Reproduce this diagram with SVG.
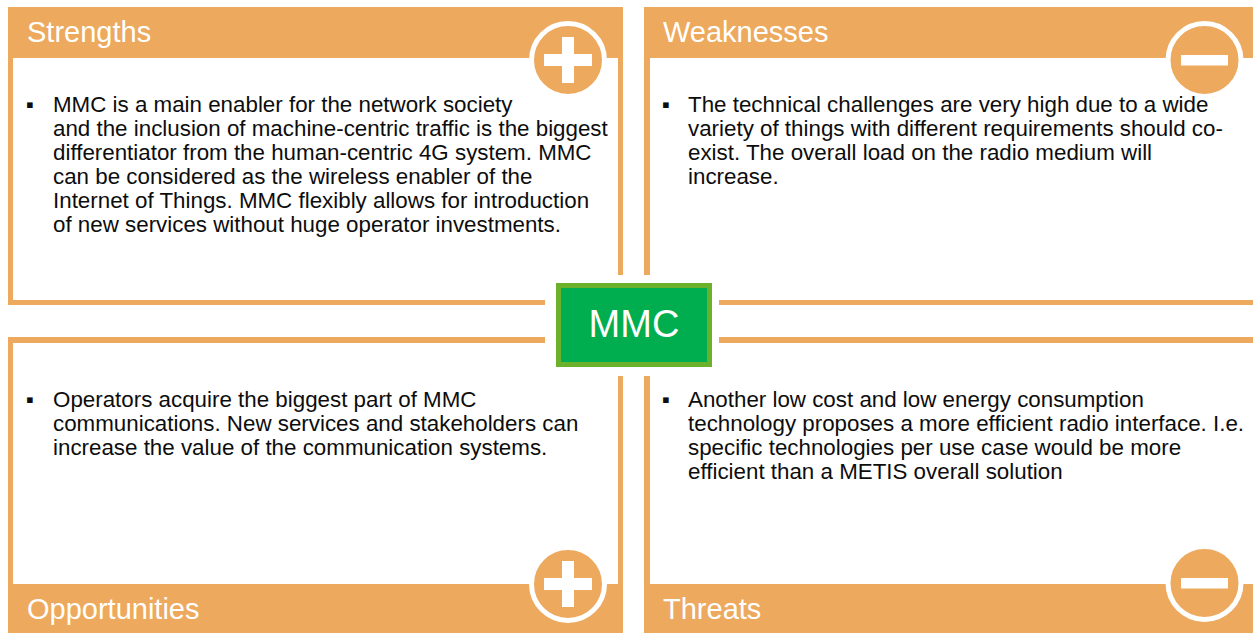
<svg xmlns="http://www.w3.org/2000/svg" width="1253" height="633" viewBox="0 0 1253 633">
<style>
.or{fill:#EDA95D}
.wh{fill:#FFFFFF}
.hd{font-family:"Liberation Sans",Arial,sans-serif;font-size:29px;fill:#FFFFFF}
.bd{font-family:"Liberation Sans",Arial,sans-serif;font-size:22.35px;fill:#0D0D0D}
.ring{fill:#EDA95D;stroke:#FFFFFF;stroke-width:5}
</style>
<defs>
<g id="plus"><circle class="ring" cx="0" cy="0" r="36.5"/><rect class="wh" x="-24" y="-6" width="48" height="12"/><rect class="wh" x="-6" y="-23" width="12" height="46"/></g>
<g id="minus"><circle class="ring" cx="0" cy="0" r="36.5"/><rect class="wh" x="-23.5" y="-5" width="47" height="10.5"/></g>
</defs>
<rect width="1253" height="633" fill="#FFFFFF"/>
<g id="strengths">
<rect class="or" x="8" y="7" width="615" height="298"/>
<rect class="wh" x="13" y="58" width="605" height="242"/>
<text class="hd" x="27" y="42">Strengths</text>
<use href="#plus" x="568" y="60"/>
<text class="bd"><tspan x="26" y="112">▪</tspan><tspan x="53" y="112">MMC is a main enabler for the network society</tspan><tspan x="53" y="136">and the inclusion of machine-centric traffic is the biggest</tspan><tspan x="53" y="160">differentiator from the human-centric 4G system. MMC</tspan><tspan x="53" y="184">can be considered as the wireless enabler of the</tspan><tspan x="53" y="208">Internet of Things. MMC flexibly allows for introduction</tspan><tspan x="53" y="232">of new services without huge operator investments.</tspan></text>
</g>
<g id="weaknesses">
<rect class="or" x="644" y="7" width="615" height="298"/>
<rect class="wh" x="650" y="58" width="610" height="242"/>
<text class="hd" x="663" y="42">Weaknesses</text>
<use href="#minus" x="1204.5" y="60"/>
<text class="bd"><tspan x="662" y="112">▪</tspan><tspan x="688" y="112">The technical challenges are very high due to a wide</tspan><tspan x="688" y="136">variety of things with different requirements should co-</tspan><tspan x="688" y="160">exist. The overall load on the radio medium will</tspan><tspan x="688" y="184">increase.</tspan></text>
</g>
<g id="opportunities">
<rect class="or" x="8" y="337" width="615" height="300"/>
<rect class="wh" x="13" y="343" width="605" height="241"/>
<use href="#plus" x="568" y="584"/>
<text class="hd" x="27" y="619">Opportunities</text>
<text class="bd"><tspan x="26" y="407">▪</tspan><tspan x="53" y="407">Operators acquire the biggest part of MMC</tspan><tspan x="53" y="431">communications. New services and stakeholders can</tspan><tspan x="53" y="455">increase the value of the communication systems.</tspan></text>
</g>
<g id="threats">
<rect class="or" x="644" y="337" width="615" height="300"/>
<rect class="wh" x="650" y="343" width="610" height="241"/>
<use href="#minus" x="1204.5" y="583"/>
<text class="hd" x="663" y="619">Threats</text>
<text class="bd"><tspan x="662" y="407">▪</tspan><tspan x="688" y="407">Another low cost and low energy consumption</tspan><tspan x="688" y="431">technology proposes a more efficient radio interface. I.e.</tspan><tspan x="688" y="455">specific technologies per use case would be more</tspan><tspan x="688" y="479">efficient than a METIS overall solution</tspan></text>
</g>
<g id="connectors"></g>
<g id="mmc">
<rect class="wh" x="545" y="275" width="174" height="101"/>
<rect x="556" y="283" width="156" height="84" fill="#6BB12B"/>
<rect x="561" y="288" width="146" height="74" fill="#00AE4F"/>
<text x="634" y="337" text-anchor="middle" font-family="Liberation Sans, Arial, sans-serif" font-size="38" fill="#FFFFFF">MMC</text>
</g>
</svg>
